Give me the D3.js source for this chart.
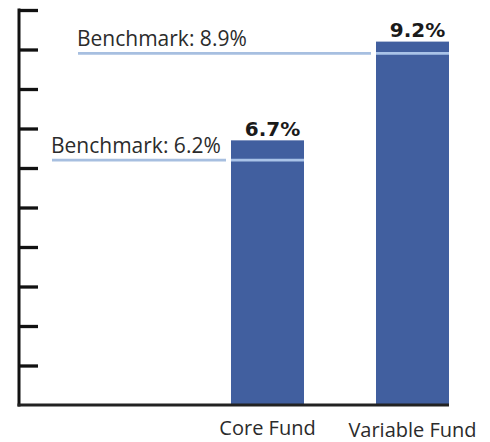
<!DOCTYPE html>
<html>
<head>
<meta charset="utf-8">
<script src="https://cdn.jsdelivr.net/npm/d3@7"></script>
<style>
  body { margin: 0; background: #fff; }
  svg { display: block; }
</style>
</head>
<body>
<div id="chart"></div>
<script>
const funds = ["Core Fund", "Variable Fund"];
const returns = [6.7, 9.2];
const benchmarks = [6.2, 8.9];
const yTicks = d3.range(1, 11);

const width = 490;
const height = 442;
const baseY = 405;
const axisX = 19;

const svg = d3
  .select("#chart")
  .append("svg")
  .attr("width", width)
  .attr("height", height);

const y = d3.scaleLinear().domain([0, 10]).range([baseY, 10]);

const x = d3
  .scaleBand()
  .domain(funds)
  .range([231, 449])
  .paddingInner(0.4966)
  .paddingOuter(0);

// where each benchmark label / line begins on the left
const benchStart = { "Core Fund": 52, "Variable Fund": 78 };

const data = funds.map((f, i) => ({
  fund: f,
  value: returns[i],
  bench: benchmarks[i],
}));

// bars
svg
  .selectAll(".bar")
  .data(data)
  .enter()
  .append("rect")
  .attr("class", "bar")
  .attr("x", (d) => x(d.fund))
  .attr("y", (d) => y(d.value))
  .attr("width", x.bandwidth())
  .attr("height", (d) => baseY - y(d.value))
  .attr("fill", "#415f9f");

// benchmark lines outside the bar
svg
  .selectAll(".bench-out")
  .data(data)
  .enter()
  .append("line")
  .attr("class", "bench-out")
  .attr("x1", (d) => benchStart[d.fund])
  .attr("x2", (d) => x(d.fund) - 5)
  .attr("y1", (d) => y(d.bench))
  .attr("y2", (d) => y(d.bench))
  .attr("stroke", "#a7bfe0")
  .attr("stroke-width", 2.7);

// benchmark lines across the bar
svg
  .selectAll(".bench-in")
  .data(data)
  .enter()
  .append("line")
  .attr("class", "bench-in")
  .attr("x1", (d) => x(d.fund))
  .attr("x2", (d) => x(d.fund) + x.bandwidth())
  .attr("y1", (d) => y(d.bench))
  .attr("y2", (d) => y(d.bench))
  .attr("stroke", "#a9c3e8")
  .attr("stroke-width", 2.7);

svg
  .selectAll(".bench-label")
  .data(data)
  .enter()
  .append("text")
  .attr("class", "bench-label")
  .attr("x", (d) => benchStart[d.fund] - 1)
  .attr("y", (d) => y(d.bench) - 7)
  .attr("font-family", "'Open Sans', sans-serif")
  .attr("font-size", 21)
  .attr("fill", "#2b2b2b")
  .text((d) => `Benchmark: ${d.bench.toFixed(1)}%`);

// value labels
svg
  .selectAll(".value-label")
  .data(data)
  .enter()
  .append("text")
  .attr("class", "value-label")
  .attr("x", (d) => x(d.fund) + x.bandwidth() / 2 + 5)
  .attr("y", (d) => y(d.value) - 4.5)
  .attr("text-anchor", "middle")
  .attr("font-family", "'DejaVu Sans', sans-serif")
  .attr("font-weight", "bold")
  .attr("font-size", 20)
  .attr("fill", "#1a1a1a")
  .text((d) => `${d.value.toFixed(1)}%`);

// category labels
svg
  .selectAll(".cat-label")
  .data(funds)
  .enter()
  .append("text")
  .attr("class", "cat-label")
  .attr("x", (d) => x(d) + x.bandwidth() / 2)
  .attr("y", (d, i) => 435 + i * 2)
  .attr("text-anchor", "middle")
  .attr("font-family", "'Open Sans', sans-serif")
  .attr("font-size", 20)
  .attr("fill", "#2b2b2b")
  .text((d) => d);

// y axis
const yAxis = d3
  .axisRight(y)
  .tickValues(yTicks)
  .tickSize(19)
  .tickSizeOuter(0)
  .tickFormat("");

const gy = svg
  .append("g")
  .attr("transform", `translate(${axisX},0)`)
  .call(yAxis);

gy.select(".domain").remove();
gy.selectAll(".tick line")
  .attr("stroke", "#111")
  .attr("stroke-width", 3.3);

svg
  .append("line")
  .attr("x1", axisX)
  .attr("x2", axisX)
  .attr("y1", y(10) - 1.5)
  .attr("y2", baseY + 1.5)
  .attr("stroke", "#111")
  .attr("stroke-width", 3);

// baseline
svg
  .append("line")
  .attr("x1", axisX - 1.5)
  .attr("x2", x(funds[1]) + x.bandwidth())
  .attr("y1", baseY)
  .attr("y2", baseY)
  .attr("stroke", "#222")
  .attr("stroke-width", 3);
</script>
</body>
</html>
